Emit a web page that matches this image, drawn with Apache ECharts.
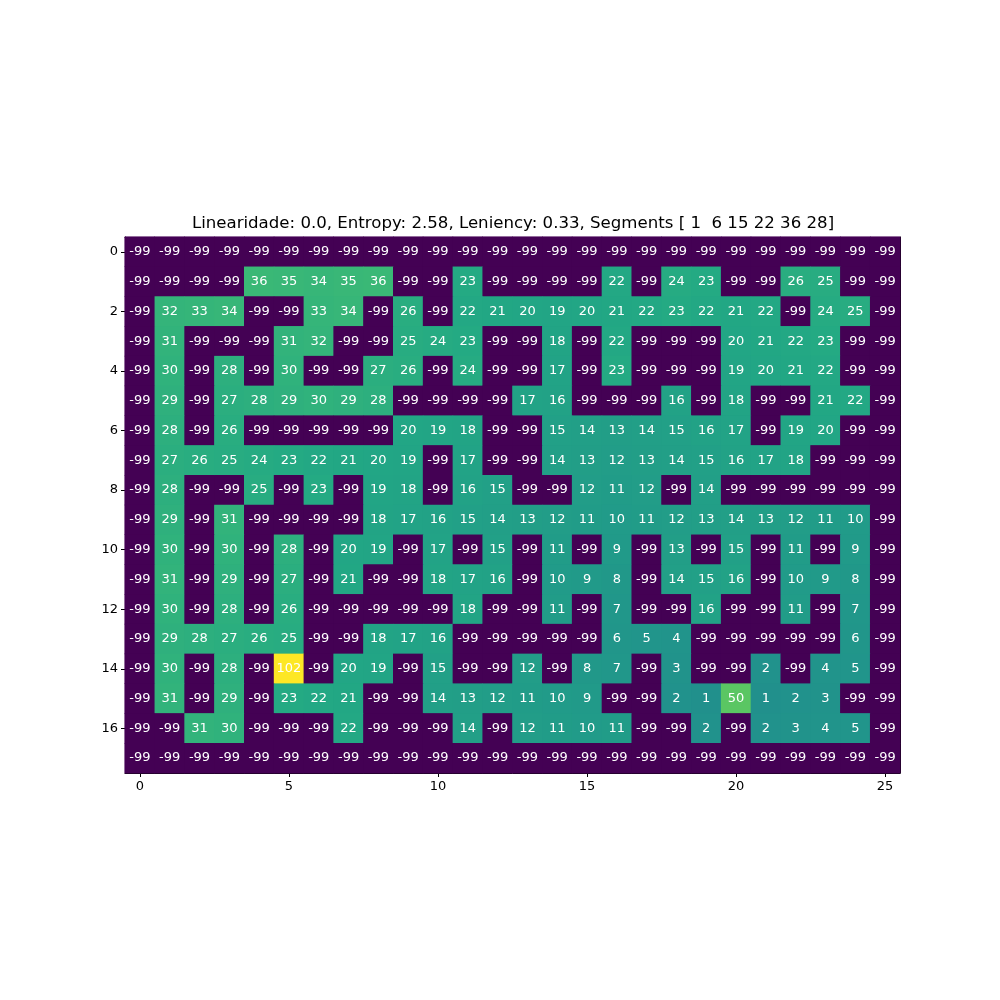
<!DOCTYPE html>
<html>
<head>
<meta charset="utf-8">
<script src="https://cdn.jsdelivr.net/npm/echarts@6/dist/echarts.min.js"></script>
<style>html,body{margin:0;padding:0;background:#fff}#c{width:1000px;height:1000px}</style>
</head>
<body>
<div id="c"></div>
<script>
const titleText = 'Linearidade: 0.0, Entropy: 2.58, Leniency: 0.33, Segments [ 1  6 15 22 36 28]';
const xCategories = Array.from({length: 26}, (_, i) => String(i));
const yCategories = Array.from({length: 18}, (_, i) => String(i));

const row00 = [-99,-99,-99,-99,-99,-99,-99,-99,-99,-99,-99,-99,-99,-99,-99,-99,-99,-99,-99,-99,-99,-99,-99,-99,-99,-99];
const row01 = [-99,-99,-99,-99,36,35,34,35,36,-99,-99,23,-99,-99,-99,-99,22,-99,24,23,-99,-99,26,25,-99,-99];
const row02 = [-99,32,33,34,-99,-99,33,34,-99,26,-99,22,21,20,19,20,21,22,23,22,21,22,-99,24,25,-99];
const row03 = [-99,31,-99,-99,-99,31,32,-99,-99,25,24,23,-99,-99,18,-99,22,-99,-99,-99,20,21,22,23,-99,-99];
const row04 = [-99,30,-99,28,-99,30,-99,-99,27,26,-99,24,-99,-99,17,-99,23,-99,-99,-99,19,20,21,22,-99,-99];
const row05 = [-99,29,-99,27,28,29,30,29,28,-99,-99,-99,-99,17,16,-99,-99,-99,16,-99,18,-99,-99,21,22,-99];
const row06 = [-99,28,-99,26,-99,-99,-99,-99,-99,20,19,18,-99,-99,15,14,13,14,15,16,17,-99,19,20,-99,-99];
const row07 = [-99,27,26,25,24,23,22,21,20,19,-99,17,-99,-99,14,13,12,13,14,15,16,17,18,-99,-99,-99];
const row08 = [-99,28,-99,-99,25,-99,23,-99,19,18,-99,16,15,-99,-99,12,11,12,-99,14,-99,-99,-99,-99,-99,-99];
const row09 = [-99,29,-99,31,-99,-99,-99,-99,18,17,16,15,14,13,12,11,10,11,12,13,14,13,12,11,10,-99];
const row10 = [-99,30,-99,30,-99,28,-99,20,19,-99,17,-99,15,-99,11,-99,9,-99,13,-99,15,-99,11,-99,9,-99];
const row11 = [-99,31,-99,29,-99,27,-99,21,-99,-99,18,17,16,-99,10,9,8,-99,14,15,16,-99,10,9,8,-99];
const row12 = [-99,30,-99,28,-99,26,-99,-99,-99,-99,-99,18,-99,-99,11,-99,7,-99,-99,16,-99,-99,11,-99,7,-99];
const row13 = [-99,29,28,27,26,25,-99,-99,18,17,16,-99,-99,-99,-99,-99,6,5,4,-99,-99,-99,-99,-99,6,-99];
const row14 = [-99,30,-99,28,-99,102,-99,20,19,-99,15,-99,-99,12,-99,8,7,-99,3,-99,-99,2,-99,4,5,-99];
const row15 = [-99,31,-99,29,-99,23,22,21,-99,-99,14,13,12,11,10,9,-99,-99,2,1,50,1,2,3,-99,-99];
const row16 = [-99,-99,31,30,-99,-99,-99,22,-99,-99,-99,14,-99,12,11,10,11,-99,-99,2,-99,2,3,4,5,-99];
const row17 = [-99,-99,-99,-99,-99,-99,-99,-99,-99,-99,-99,-99,-99,-99,-99,-99,-99,-99,-99,-99,-99,-99,-99,-99,-99,-99];

const rows = [row00,row01,row02,row03,row04,row05,row06,row07,row08,row09,row10,row11,row12,row13,row14,row15,row16,row17];
const data = [];
rows.forEach((r, y) => r.forEach((v, x) => data.push([x, y, v])));

const viridis = ['#440154','#482475','#414487','#355f8d','#2a788e','#21918c','#22a884','#44bf70','#7ad151','#bddf26','#fde725'];
const FONT = 'DejaVu Sans';

const chart = echarts.init(document.getElementById('c'), null, {renderer: 'canvas'});
chart.setOption({
  backgroundColor: '#ffffff',
  animation: false,
  title: {
    text: titleText,
    left: 508, top: 210, textAlign: 'center',
    textStyle: {fontFamily: FONT, fontSize: 16.6, fontWeight: 'normal', color: '#000'}
  },
  grid: {left: 125, top: 237, width: 775, height: 536, containLabel: false},
  xAxis: [{
    type: 'category', data: xCategories, position: 'bottom',
    axisLine: {show: true, lineStyle: {color: '#000', width: 1}},
    axisTick: {show: true, interval: 4, alignWithLabel: true, length: 4, lineStyle: {color: '#000'}},
    axisLabel: {interval: 4, fontFamily: FONT, fontSize: 13, color: '#000', margin: 7},
    splitLine: {show: false}
  }, {
    type: 'category', data: xCategories, position: 'top',
    axisLine: {show: true, onZero: false, lineStyle: {color: '#000', width: 1}},
    axisTick: {show: false}, axisLabel: {show: false}, splitLine: {show: false}
  }],
  yAxis: [{
    type: 'category', data: yCategories, inverse: true, position: 'left',
    axisLine: {show: true, lineStyle: {color: '#000', width: 1}},
    axisTick: {show: true, interval: 1, alignWithLabel: true, length: 4, lineStyle: {color: '#000'}},
    axisLabel: {interval: 1, fontFamily: FONT, fontSize: 13, color: '#000', margin: 7},
    splitLine: {show: false}
  }, {
    type: 'category', data: yCategories, inverse: true, position: 'right',
    axisLine: {show: true, onZero: false, lineStyle: {color: '#000', width: 1}},
    axisTick: {show: false}, axisLabel: {show: false}, splitLine: {show: false}
  }],
  visualMap: {
    show: false, type: 'continuous', min: -99, max: 102, dimension: 2,
    seriesIndex: [0, 1, 2],
    inRange: {color: viridis}
  },
  series: [{
    type: 'heatmap', data: data, xAxisIndex: 0, yAxisIndex: 0,
    itemStyle: {borderWidth: 0}, label: {show: false}, emphasis: {disabled: true}, silent: true
  }, {
    type: 'heatmap', data: data, xAxisIndex: 0, yAxisIndex: 0,
    itemStyle: {borderWidth: 0}, label: {show: false}, emphasis: {disabled: true}, silent: true
  }, {
    type: 'heatmap', data: data, xAxisIndex: 0, yAxisIndex: 0,
    itemStyle: {borderWidth: 0},
    label: {show: true, color: '#fff', fontFamily: FONT, fontSize: 13,
      formatter: p => String(p.value[2])},
    emphasis: {disabled: true}
  }]
});
</script>
</body>
</html>
